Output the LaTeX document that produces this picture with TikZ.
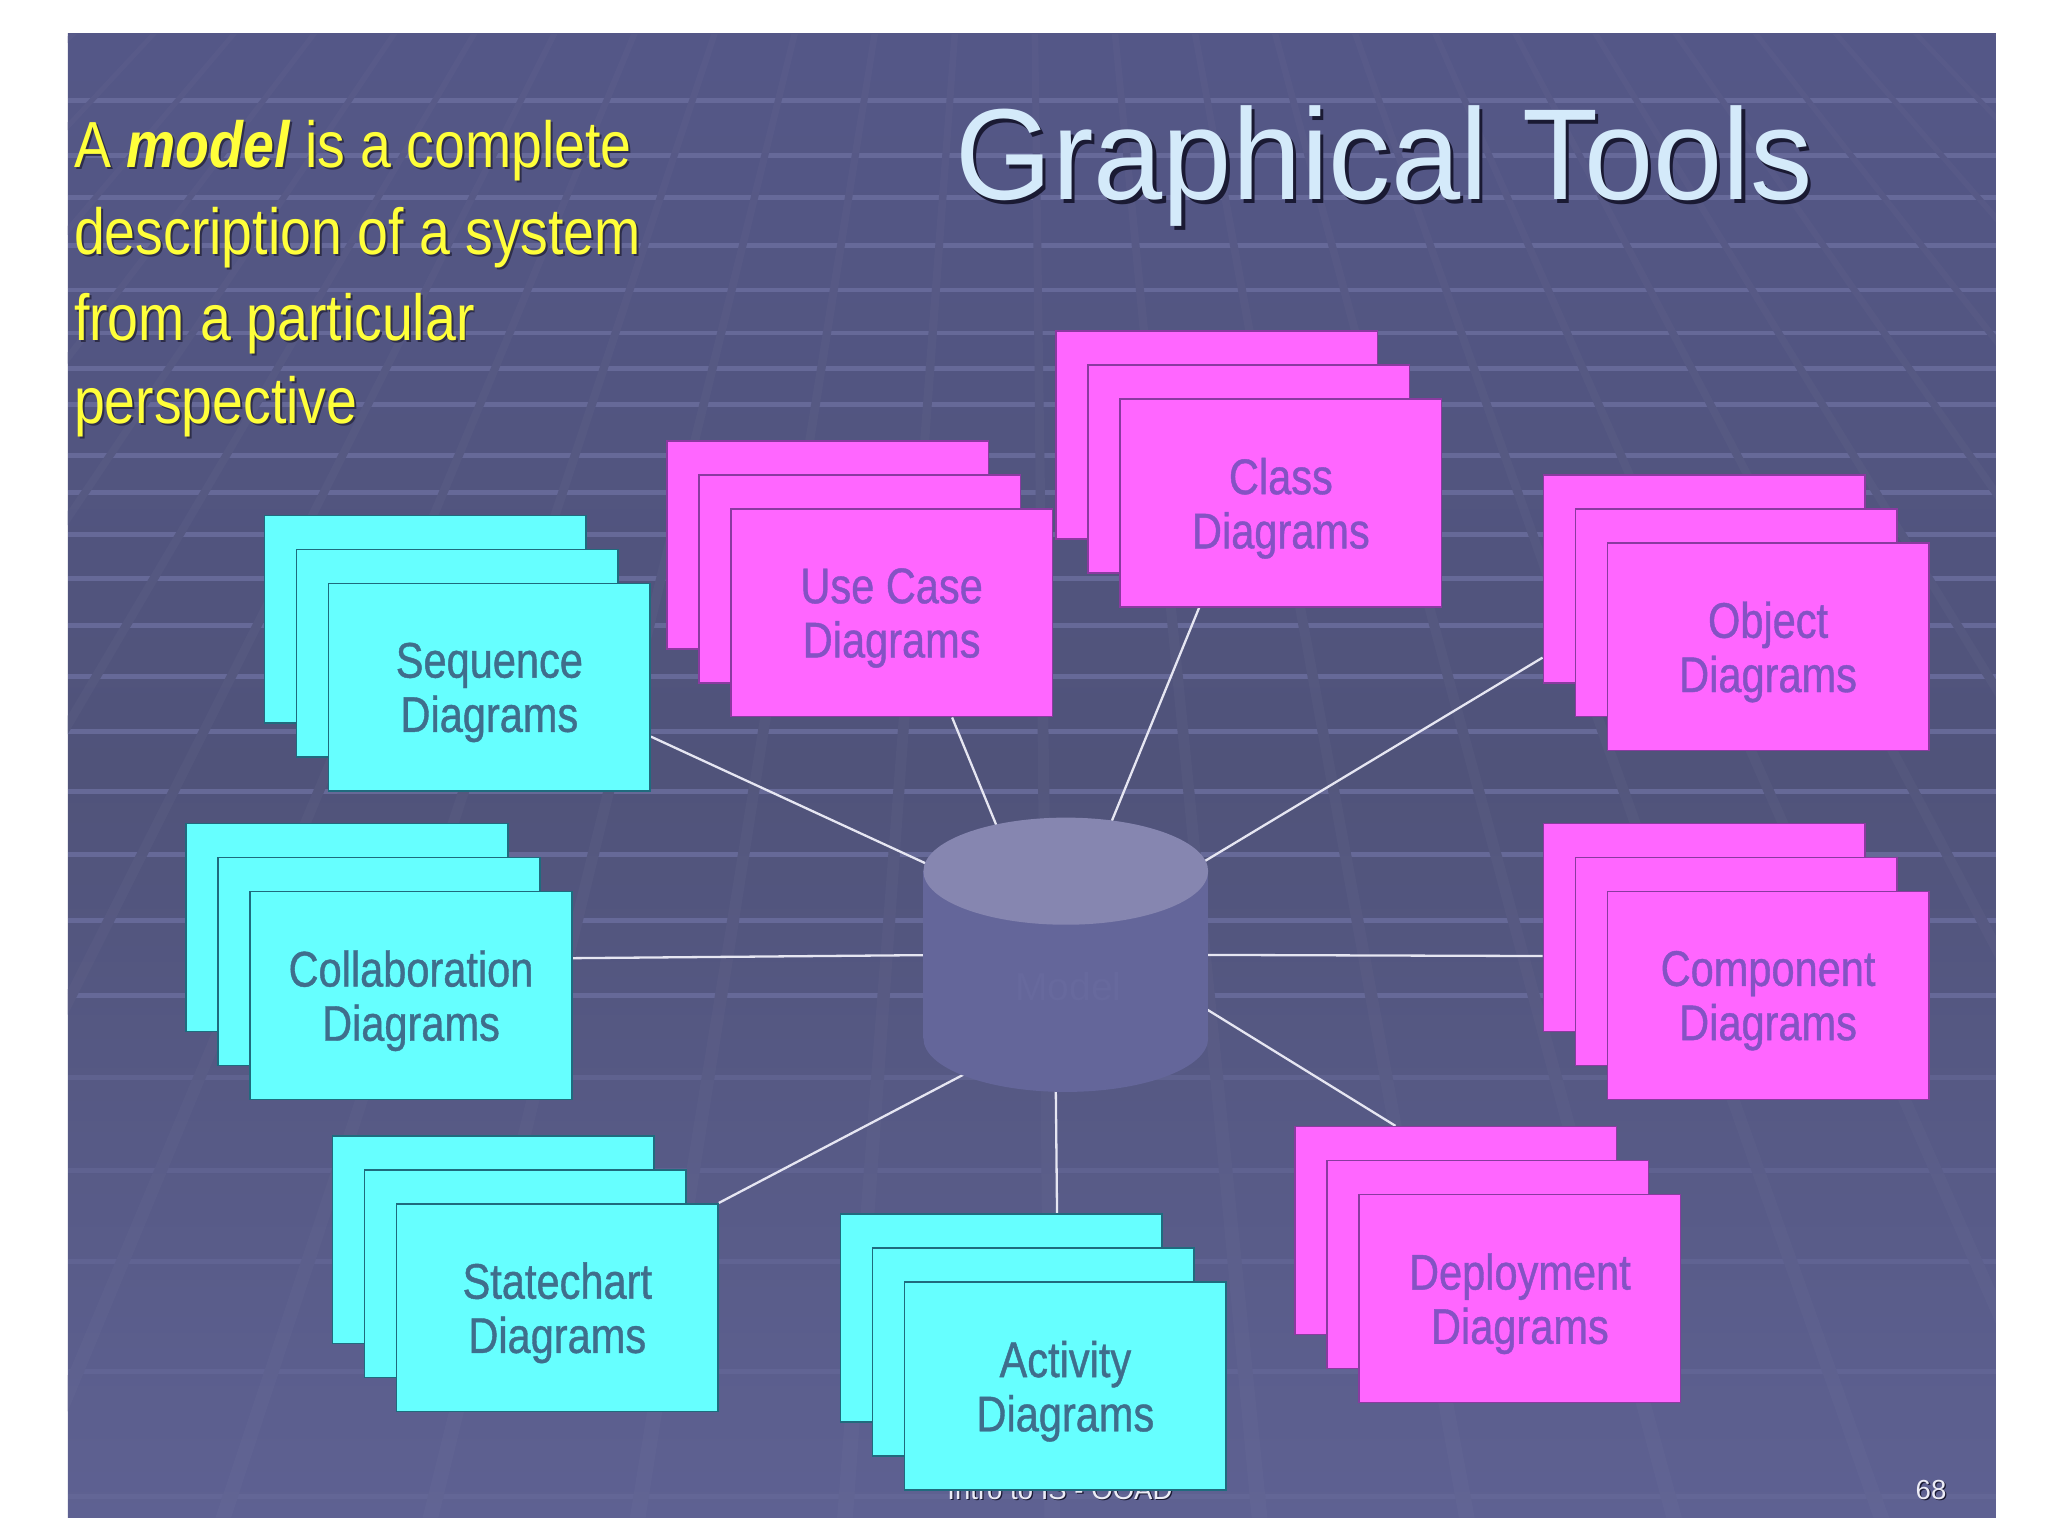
\documentclass[tikz,border=0pt]{standalone}
\usepackage{fontspec}
\setmainfont{Liberation Sans}
\newfontfamily\boxfont[FakeStretch=0.83,FakeBold=0.8]{Liberation Sans}
\newfontfamily\yelfont[FakeStretch=0.85]{Liberation Sans}
\newfontfamily\titlefont[FakeStretch=0.96]{Liberation Sans}
\usetikzlibrary{calc}
\pgfdeclarelayer{backlayer}
\pgfdeclarelayer{connlayer}
\pgfsetlayers{backlayer,connlayer,main}

\definecolor{bgtop}{HTML}{5E6195}
\definecolor{bghi}{HTML}{55588A}
\definecolor{bgmid}{HTML}{50537A}
\definecolor{bglow}{HTML}{5E6192}
\definecolor{bgbot}{HTML}{66699C}
\definecolor{rowc}{HTML}{6A6D9D}
\definecolor{cyanbox}{HTML}{66FFFF}
\definecolor{cyanedge}{HTML}{1F6B7E}
\definecolor{cyantext}{HTML}{3F6E8C}
\definecolor{magbox}{HTML}{FF66FF}
\definecolor{magedge}{HTML}{8A3AA0}
\definecolor{magtext}{HTML}{8552C4}
\definecolor{cylbody}{HTML}{64669A}
\definecolor{cyltop}{HTML}{8686B0}
\definecolor{modeltext}{HTML}{67699D}
\definecolor{connc}{HTML}{E6E6F2}
\definecolor{yel}{HTML}{FFFF3A}
\definecolor{titlec}{HTML}{D4EAFA}
\definecolor{shadowc}{HTML}{1A1A33}
\definecolor{yelshadow}{HTML}{2E2E4A}
\definecolor{footc}{HTML}{ECECF6}

\pgfdeclareverticalshading{slidebg}{100bp}{color(0bp)=(bgbot); color(25bp)=(bglow); color(50bp)=(bgmid); color(80bp)=(bghi); color(95bp)=(bgtop); color(100bp)=(bgtop)}

\tikzset{
  boxbase/.style={minimum width=2.46cm, minimum height=1.59cm, inner sep=0pt,
    anchor=north west, line width=0.35pt},
  cbox/.style={boxbase, draw=cyanedge, fill=cyanbox},
  mbox/.style={boxbase, draw=magedge, fill=magbox},
  lblbase/.style={align=center, inner sep=0pt, yshift=-0.04cm,
    font=\boxfont\fontsize{10.9}{11.8}\selectfont},
  clbl/.style={lblbase, text=cyantext},
  mlbl/.style={lblbase, text=magtext},
  conn/.style={draw=connc, line width=0.5pt},
  rowline/.style={draw=rowc, line width=1.05pt},
  yeltext/.style={anchor=base west, inner sep=0pt, text=yel,
    font=\yelfont\fontsize{14.2}{17}\selectfont},
  yelsh/.style={yeltext, text=yelshadow},
  titletext/.style={anchor=base west, inner sep=0pt, text=titlec,
    font=\titlefont\fontsize{28.2}{32}\selectfont},
  footfont/.style={inner sep=0pt, font=\fontsize{6}{7}\selectfont},
}

\newcommand\diagstack[5]{%
  \node[#4box] (#1B) at (#2,#3) {};
  \node[#4box] (#1M) at ({#2+24.5},{#3+26}) {};
  \node[#4box, label={[name=#1L, #4lbl]center:#5}] (#1F) at ({#2+49},{#3+52}) {};
}

\begin{document}
\begin{tikzpicture}[x=0.01cm,y=-0.01cm]
\useasboundingbox (0,0) rectangle (1568,1176);

\begin{pgfonlayer}{backlayer}
  \fill[white] (0,0) rectangle (1568,1176);
  \shade[shading=slidebg] (52,26) rectangle (1528,1162);
  % floor rows
  \begin{scope}
    \clip (52,26) rectangle (1528,1162);
    \foreach \r in {77,119,151,188,222,255,282,310,349,377,409,443,479,518,560,606,654,705,762}
      \draw[rowline, opacity=0.85] (52,\r) -- (1528,\r);
    \foreach \r in {825,896,966,1050,1146}
      \draw[rowline, opacity=0.45] (52,\r) -- (1528,\r);
  \end{scope}
  % converging floor lines
  \begin{scope}
    \clip foreach \k in {-4,...,20} {
      ({784+0.697*(88*\k-692)-2.5},26) -- ({784+0.697*(88*\k-692)+2.5},26) --
      ({784+1.8033*(88*\k-692)+6},1162) -- ({784+1.8033*(88*\k-692)-6},1162) -- cycle };
    \shade[shading=slidebg] (52,26) rectangle (1528,1162);
    \fill[white, opacity=0.025] (52,26) rectangle (1528,1162);
  \end{scope}
  % footer
  \node[footfont, anchor=base, text=shadowc] (footsh) at (812.5,1149) {Intro to IS - OOAD};
  \node[footfont, anchor=base, text=footc] (foot) at (811.5,1148) {Intro to IS - OOAD};
  \node[footfont, anchor=base west, text=shadowc] (pgnumsh) at (1467,1149) {68};
  \node[footfont, anchor=base west, text=footc] (pgnum) at (1466,1148) {68};
\end{pgfonlayer}

% title
\node[titletext, text=shadowc] (titlesh) at (733.5,155.5) {Graphical Tools};
\node[titletext] (title) at (731,153) {Graphical Tools};

% left statement
\node[yelsh] (l1sh) at (57.5,129.5) {A {\bfseries\itshape model} is a complete};
\node[yeltext] (l1) at (56,128) {A {\bfseries\itshape model} is a complete};
\node[yelsh] (l2sh) at (57.5,196.5) {description of a system};
\node[yeltext] (l2) at (56,195) {description of a system};
\node[yelsh] (l3sh) at (57.5,262.5) {from a particular};
\node[yeltext] (l3) at (56,261) {from a particular};
\node[yelsh] (l4sh) at (57.5,325.5) {perspective};
\node[yeltext] (l4) at (56,324) {perspective};

% diagram stacks
\diagstack{seq}{202}{394}{c}{Sequence\\Diagrams}
\diagstack{use}{510}{337}{m}{Use Case\\Diagrams}
\diagstack{cls}{808}{253}{m}{Class\\Diagrams}
\diagstack{obj}{1181}{363}{m}{Object\\Diagrams}
\diagstack{col}{142}{630}{c}{Collaboration\\Diagrams}
\diagstack{cmp}{1181}{630}{m}{Component\\Diagrams}
\diagstack{st}{254}{869}{c}{Statechart\\Diagrams}
\diagstack{act}{643}{929}{c}{Activity\\Diagrams}
\diagstack{dep}{991}{862}{m}{Deployment\\Diagrams}

% central model (cylinder)
\node[minimum width=2.18cm, minimum height=2.10cm, inner sep=0pt] (model) at (816,731) {};
\fill[cylbody] (707,667) rectangle (925,795);
\fill[cylbody] (816,795) ellipse[x radius=109, y radius=41];
\fill[cyltop] (816,667) ellipse[x radius=109, y radius=41];
\node[text=modeltext, inner sep=0pt, anchor=base, font=\fontsize{8.5}{10}\selectfont] (modellbl) at (818,766) {Model};

\coordinate (mSeq) at (726,669);
\coordinate (mUse) at (774,659);
\coordinate (mCls) at (840,656);
\coordinate (mObj) at (898,674);
\coordinate (mCol) at (740,731);
\coordinate (mCmp) at (890,731);
\coordinate (mSt)  at (762,810);
\coordinate (mAct) at (808,800);
\coordinate (mDep) at (900,758);

\begin{pgfonlayer}{connlayer}
  \draw[conn] (seqF.-17.8) -- (mSeq);
  \draw[conn] (useF.-60.5) -- (mUse);
  \draw[conn] (clsF.-128.9) -- (mCls);
  \draw[conn] (objB.-154) -- (mObj);
  \draw[conn] (colF.13.9) -- (mCol);
  \draw[conn] (cmpB.-170.1) -- (mCmp);
  \draw[conn] (stF.north east) -- (mSt);
  \draw[conn] (actB.62.2) -- (mAct);
  \draw[conn] (depB.120.1) -- (mDep);
\end{pgfonlayer}
\end{tikzpicture}
\end{document}
